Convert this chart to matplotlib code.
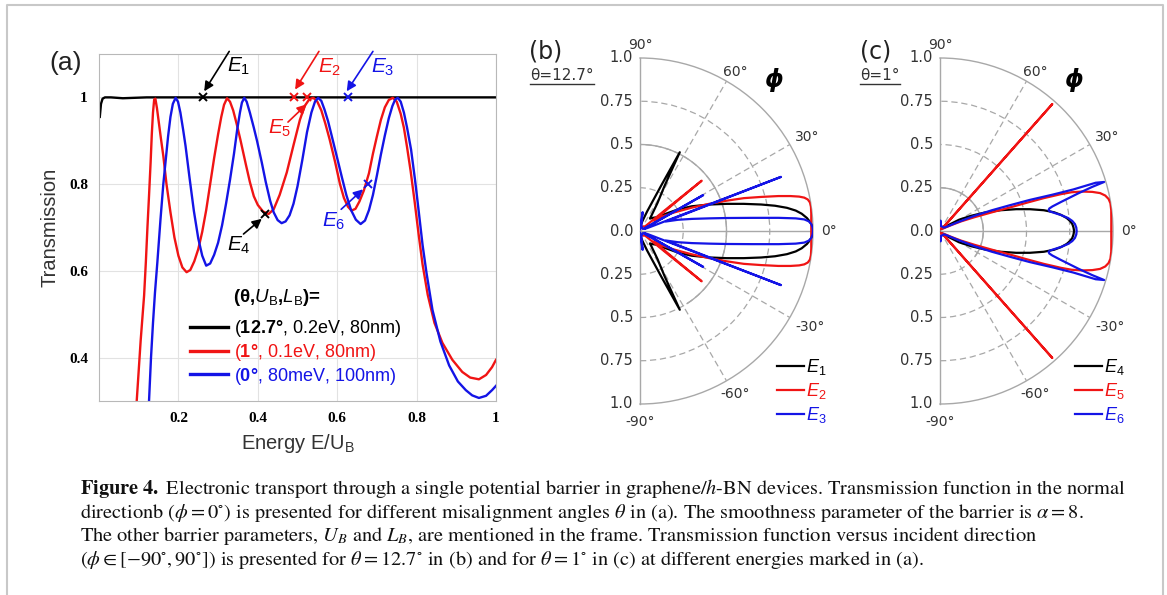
"""Figure 4 recreation: transmission vs energy (a) and angular T(phi) for theta=12.7 (b) / theta=1 (c)."""

import matplotlib
matplotlib.use("Agg")
import matplotlib.pyplot as plt
import numpy as np
from matplotlib.lines import Line2D

W, H = 1167, 595

plt.rcParams["mathtext.fontset"] = "custom"
plt.rcParams["mathtext.rm"] = "Liberation Sans"
plt.rcParams["mathtext.it"] = "Liberation Sans:italic"
plt.rcParams["mathtext.bf"] = "Liberation Sans:bold"

RED = "#f01414"
BLUE = "#1414e6"
BLACK = "#000000"
GRID_GRAY = "#a8a8a8"
TEXT_GRAY = "#333333"

# ---------------- panel (a): transmission vs E/U_B ----------------
E_BLACK = [0.002, 0.005, 0.009, 0.015, 0.03, 0.06, 0.12, 0.3, 0.6, 1.0]
T_BLACK = [0.955, 0.985, 0.997, 1.0, 1.0, 0.998, 1.0, 1.0, 1.0, 1.0]

E_RED = [0.095, 0.100, 0.105, 0.110, 0.1136, 0.118, 0.122, 0.126, 0.130, 0.133,
         0.136, 0.139, 0.142, 0.146, 0.151, 0.156, 0.162, 0.17, 0.18, 0.19,
         0.20, 0.21, 0.2206, 0.23, 0.24, 0.25, 0.26, 0.27, 0.28, 0.29,
         0.30, 0.308, 0.315, 0.3225, 0.33, 0.338, 0.347, 0.356, 0.37, 0.38,
         0.39, 0.40, 0.413, 0.427, 0.44, 0.455, 0.473, 0.49, 0.506, 0.518,
         0.53, 0.54, 0.55, 0.56, 0.57, 0.581, 0.595, 0.607, 0.617, 0.627,
         0.636, 0.646, 0.656, 0.667, 0.68, 0.69, 0.70, 0.71, 0.72, 0.73,
         0.74, 0.75, 0.76, 0.768, 0.776, 0.785, 0.795, 0.805, 0.815, 0.828,
         0.845, 0.865, 0.89, 0.915, 0.935, 0.957, 0.975, 0.99, 1.0]
T_RED = [0.30, 0.37, 0.44, 0.50, 0.543, 0.62, 0.70, 0.773, 0.85, 0.915,
         0.965, 0.995, 0.997, 0.975, 0.94, 0.905, 0.865, 0.80, 0.735, 0.677,
         0.635, 0.608, 0.597, 0.602, 0.622, 0.65, 0.69, 0.74, 0.80, 0.86,
         0.915, 0.955, 0.983, 0.998, 0.99, 0.97, 0.938, 0.903, 0.845, 0.805,
         0.772, 0.752, 0.737, 0.731, 0.742, 0.775, 0.827, 0.89, 0.948, 0.98,
         0.996, 0.999, 0.99, 0.97, 0.94, 0.903, 0.85, 0.80, 0.768, 0.748,
         0.739, 0.743, 0.76, 0.785, 0.825, 0.87, 0.91, 0.948, 0.977, 0.994,
         0.999, 0.99, 0.962, 0.93, 0.885, 0.83, 0.76, 0.685, 0.615, 0.545,
         0.48, 0.434, 0.395, 0.367, 0.354, 0.35, 0.36, 0.378, 0.395]

E_BLUE = [0.126, 0.131, 0.136, 0.141, 0.147, 0.155, 0.162, 0.168, 0.174, 0.18,
          0.186, 0.193, 0.199, 0.205, 0.212, 0.218, 0.228, 0.239, 0.25, 0.26,
          0.27, 0.28, 0.29, 0.30, 0.31, 0.32, 0.33, 0.34, 0.348, 0.355,
          0.36, 0.366, 0.372, 0.38, 0.39, 0.398, 0.41, 0.42, 0.431, 0.44,
          0.45, 0.46, 0.47, 0.48, 0.49, 0.50, 0.512, 0.524, 0.535, 0.544,
          0.552, 0.56, 0.568, 0.577, 0.586, 0.6, 0.612, 0.623, 0.635, 0.647,
          0.659, 0.67, 0.68, 0.69, 0.70, 0.71, 0.72, 0.73, 0.739, 0.746,
          0.7526, 0.76, 0.768, 0.776, 0.786, 0.796, 0.805, 0.815, 0.825, 0.84,
          0.86, 0.882, 0.904, 0.924, 0.94, 0.957, 0.975, 0.99, 1.0]
T_BLUE = [0.30, 0.40, 0.48, 0.55, 0.62, 0.72, 0.80, 0.855, 0.91, 0.955,
          0.985, 0.999, 0.99, 0.965, 0.925, 0.888, 0.815, 0.738, 0.675, 0.635,
          0.612, 0.617, 0.637, 0.665, 0.705, 0.755, 0.81, 0.87, 0.925, 0.965,
          0.988, 0.999, 0.99, 0.965, 0.93, 0.90, 0.85, 0.805, 0.762, 0.735,
          0.717, 0.71, 0.714, 0.728, 0.755, 0.795, 0.855, 0.92, 0.965, 0.99,
          0.999, 0.992, 0.972, 0.945, 0.912, 0.86, 0.815, 0.775, 0.74, 0.718,
          0.708, 0.716, 0.74, 0.775, 0.82, 0.868, 0.912, 0.952, 0.98, 0.995,
          0.999, 0.99, 0.965, 0.93, 0.88, 0.81, 0.74, 0.66, 0.595, 0.51,
          0.437, 0.382, 0.345, 0.325, 0.313, 0.307, 0.312, 0.325, 0.335]

SERIES_LABELS = [r"($\mathbf{12.7°}$, 0.2eV, 80nm)",
                 r"($\mathbf{1°}$, 0.1eV, 80nm)",
                 r"($\mathbf{0°}$, 80meV, 100nm)"]

# marked energies E1..E6 on the curves of (a)
MARK_E = [0.263, 0.491, 0.626, 0.418, 0.523, 0.677]
MARK_T = [1.0, 1.0, 1.0, 0.731, 1.0, 0.80]
MARK_NAMES = ["1", "2", "3", "4", "5", "6"]

X_TICKS = [0.2, 0.4, 0.6, 0.8, 1.0]
X_TICK_LABELS = ["0.2", "0.4", "0.6", "0.8", "1"]
Y_TICKS = [0.4, 0.6, 0.8, 1.0]
Y_TICK_LABELS = ["0.4", "0.6", "0.8", "1"]

# ---------------- panels (b), (c): T(phi), phi >= 0 half (curves are symmetric) ----------------
PHI_B1 = [0, 1.73, 2.9, 4.44, 6.1, 7.47, 8.96, 10.6, 12.33, 14.66, 17.43, 20.93,
          25.5, 29.6, 33.7, 38.7, 47, 51.1, 58, 61.5, 63.2, 65, 70, 76, 84, 90]
T_B1 = [1.0, 0.995, 0.986, 0.968, 0.94, 0.908, 0.86, 0.794, 0.717, 0.62, 0.524, 0.428,
        0.332, 0.253, 0.18, 0.128, 0.103, 0.092, 0.19, 0.30, 0.51, 0.29, 0.12, 0.06,
        0.03, 0.02]
PHI_B2 = [0, 2.9, 5.77, 8.07, 9.54, 10.63, 11.48, 12.2, 13.07, 14.17, 15.72, 17.57,
          19.29, 21.43, 24.23, 28.37, 33.18, 36.87, 38.6, 39.2, 39.8, 42, 60, 90]
T_B2 = [0.99, 0.991, 0.995, 0.998, 0.996, 0.987, 0.969, 0.941, 0.893, 0.825, 0.727,
        0.629, 0.53, 0.43, 0.329, 0.227, 0.155, 0.1, 0.2, 0.46, 0.2, 0.04, 0.03, 0.02]
PHI_B3 = [0, 1.15, 2.31, 3.29, 4.03, 4.64, 5.43, 6.67, 8.53, 10.34, 13.13, 16.46,
          20.14, 21.0, 21.8, 24, 29, 29.6, 30.2, 40, 75, 82, 86, 90]
T_B3 = [1.0, 0.998, 0.991, 0.977, 0.952, 0.903, 0.804, 0.654, 0.506, 0.407, 0.308,
        0.229, 0.16, 0.873, 0.05, 0.03, 0.03, 0.42, 0.03, 0.02, 0.03, 0.11, 0.03, 0.01]

PHI_C4 = [0, 1.48, 2.99, 4.41, 5.85, 7.57, 9.29, 11.31, 13.62, 15.98, 18.92, 22.37,
          26.05, 30.58, 35, 50, 90]
T_C4 = [0.775, 0.772, 0.766, 0.754, 0.736, 0.706, 0.669, 0.612, 0.535, 0.458, 0.37,
        0.281, 0.2, 0.128, 0.061, 0.02, 0.01]
PHI_C5 = [0, 3.47, 6.91, 9.23, 10.74, 12.11, 13.32, 14.4, 15.54, 16.42, 16.93, 17.57,
          18.06, 18.65, 19.8, 21.8, 24.6, 28.07, 35, 47.5, 48.5, 49.5, 60, 90]
T_C5 = [0.99, 0.992, 0.997, 0.998, 0.992, 0.977, 0.951, 0.909, 0.851, 0.792, 0.732,
        0.629, 0.526, 0.422, 0.319, 0.215, 0.132, 0.068, 0.03, 0.02, 0.98, 0.02, 0.02,
        0.01]
PHI_C6 = [0, 1.45, 2.94, 4.34, 5.79, 7.49, 9.04, 10.09, 10.82, 11.62, 12.32, 13.5,
          15.24, 16.16, 16.63, 17.22, 17.31, 17.9, 19.09, 20.3, 21.8, 23.75, 26.57, 32,
          40, 80, 87, 90]
T_C6 = [0.79, 0.788, 0.781, 0.767, 0.744, 0.706, 0.668, 0.645, 0.639, 0.645, 0.665,
        0.72, 0.829, 0.916, 0.99, 0.942, 0.807, 0.683, 0.55, 0.426, 0.323, 0.218, 0.112,
        0.047, 0.03, 0.03, 0.06, 0.03]

R_TICKS = [0.25, 0.5, 0.75, 1.0]
R_TICK_LABELS = ["0.25", "0.5", "0.75", "1.0"]
THETA_LABELS = ["90°", "60°", "30°", "0°", "-30°", "-60°", "-90°"]

CAPTION = [
    r"$\mathbf{Figure\ 4.}$ Electronic transport through a single potential barrier in "
    r"graphene/$h$-BN devices. Transmission function in the normal",
    r"directionb ($\phi = 0^{\circ}$) is presented for different misalignment angles "
    r"$\theta$ in (a). The smoothness parameter of the barrier is $\alpha = 8$.",
    r"The other barrier parameters, $U_B$ and $L_B$, are mentioned in the frame. "
    r"Transmission function versus incident direction",
    r"($\phi \in [-90^{\circ}, 90^{\circ}]$) is presented for $\theta = 12.7^{\circ}$ "
    r"in (b) and for $\theta = 1^{\circ}$ in (c) at different energies marked in (a).",
]


def fx(px):
    return px / W


def fy(py):
    return 1 - py / H


def full_sweep(phi_half, t_half):
    """Mirror the phi>=0 half onto phi<0 (the plots are symmetric)."""
    phi = np.asarray(phi_half, float)
    t = np.asarray(t_half, float)
    phi_all = np.concatenate([-phi[::-1], phi[1:]])
    t_all = np.concatenate([t[::-1], t[1:]])
    return np.deg2rad(phi_all), t_all


def draw_panel_a(fig):
    ax = fig.add_axes([fx(99), fy(401), fx(397), 347 / H])
    lines = []
    for e, t, c in [(E_BLACK, T_BLACK, BLACK), (E_RED, T_RED, RED), (E_BLUE, T_BLUE, BLUE)]:
        ln, = ax.plot(e, t, color=c, lw=1.7)
        lines.append(ln)
    colors = [BLACK, RED, BLUE, BLACK, RED, BLUE]
    for e, t, c in zip(MARK_E, MARK_T, colors):
        ax.plot(e, t, marker="x", ms=6, mew=1.4, color=c, ls="none")

    ax.set_xlim(0, 1)
    ax.set_ylim(0.3, 1.1)
    ax.set_xticks(X_TICKS)
    ax.set_xticklabels(X_TICK_LABELS)
    ax.set_yticks(Y_TICKS)
    ax.set_yticklabels(Y_TICK_LABELS)
    for lbl in ax.get_xticklabels() + ax.get_yticklabels():
        lbl.set_family("Liberation Serif")
        lbl.set_fontweight("bold")
        lbl.set_fontsize(11)
    ax.tick_params(length=0, pad=8)
    ax.grid(True, color="#e2e2e2", lw=0.8)
    ax.set_axisbelow(True)
    for sp in ax.spines.values():
        sp.set_color("#b8b8b8")
        sp.set_linewidth(0.8)

    ax.set_ylabel("Transmission", family="Liberation Sans", fontsize=14.5,
                  color=TEXT_GRAY, labelpad=7)
    ax.set_xlabel(r"Energy E/U$_\mathrm{B}$", family="Liberation Sans", fontsize=14.5,
                  color=TEXT_GRAY, labelpad=5)

    # arrows + E labels
    arrow_tail = [(0.328, 1.106), (0.554, 1.106), (0.69, 1.106),
                  (0.364, 0.685), (0.476, 0.943), (0.61, 0.742)]
    arrow_head = [(0.265, 1.014), (0.494, 1.018), (0.624, 1.014),
                  (0.41, 0.72), (0.523, 0.984), (0.665, 0.788)]
    label_pos = [(0.352, 1.072), (0.58, 1.07), (0.714, 1.07),
                 (0.352, 0.66), (0.455, 0.929), (0.59, 0.714)]
    for tail, head, pos, name, c in zip(arrow_tail, arrow_head, label_pos, MARK_NAMES, colors):
        ax.annotate("", xy=head, xytext=tail, annotation_clip=False,
                    arrowprops=dict(arrowstyle="-|>", color=c, lw=1.2,
                                    mutation_scale=14, shrinkA=0, shrinkB=0))
        ax.text(pos[0], pos[1], r"$\mathit{E}_{\mathit{%s}}$" % name, color=c,
                fontsize=15, ha="center", va="center")

    fig.text(fx(66), fy(63), "(a)", family="Liberation Sans", fontsize=19,
             ha="center", va="center", color="#222222")

    fig.text(fx(233), fy(298), "(θ,$\\mathit{U}_\\mathrm{B}$,$\\mathit{L}_\\mathrm{B}$)=",
             family="Liberation Sans", fontweight="bold", fontsize=13.5,
             ha="left", va="center")
    leg = ax.legend(lines, SERIES_LABELS, loc="upper left",
                    bbox_to_anchor=(fx(190), fy(318)), bbox_transform=fig.transFigure,
                    frameon=False, borderpad=0, borderaxespad=0,
                    handlelength=2.1, handletextpad=0.33, labelspacing=0.16,
                    prop={"family": "Liberation Sans", "size": 13})
    for txt, c in zip(leg.get_texts(), [BLACK, RED, BLUE]):
        txt.set_color(c)
    for h in leg.legend_handles:
        h.set_linewidth(2.4)


def setup_half_polar(ax, solid_r, solid_from):
    ax.set_thetamin(-90)
    ax.set_thetamax(90)
    ax.set_ylim(0, 1)
    ax.set_rticks([0.25, 0.5, 0.75])
    ax.set_yticklabels([])
    ax.set_thetagrids([-60, -30, 30, 60], labels=[""] * 4)
    ax.grid(True, color=GRID_GRAY, lw=0.9, ls=(0, (5, 3)))
    ax.tick_params(length=0)
    ax.patch.set_alpha(0)
    for name in ("polar", "start", "end"):
        ax.spines[name].set_color(GRID_GRAY)
        ax.spines[name].set_linewidth(1.0)
    ax.spines["inner"].set_visible(False)
    # solid 0 deg ray and the solid reference arc
    ax.plot([0, 0], [0, 1], color=GRID_GRAY, lw=1.0, zorder=1)
    arc = np.deg2rad(np.linspace(solid_from, 90, 120))
    ax.plot(arc, np.full_like(arc, solid_r), color=GRID_GRAY, lw=1.0, zorder=1)

    for r, lbl in zip(R_TICKS, R_TICK_LABELS):
        for th in (np.pi / 2, -np.pi / 2):
            ax.annotate(lbl, xy=(th, r), xytext=(-5, 0), textcoords="offset points",
                        ha="right", va="center", fontsize=10.5, color=TEXT_GRAY,
                        annotation_clip=False)
    ax.annotate("0.0", xy=(0, 0), xytext=(-5, 0), textcoords="offset points",
                ha="right", va="center", fontsize=10.5, color=TEXT_GRAY,
                annotation_clip=False)
    label_at = [(90, 1.075), (59, 1.075), (29.4, 1.11), (0, 1.09),
                (-29.5, 1.13), (-59.6, 1.09), (-90, 1.105)]
    for (deg, r), lbl in zip(label_at, THETA_LABELS):
        ax.text(np.deg2rad(deg), r, lbl, ha="center", va="center", fontsize=10,
                color=TEXT_GRAY)


def draw_polar(fig, cx, series, names, solid_r, solid_from, tag, theta_txt, tag_x, leg_x):
    side = 346
    ax = fig.add_axes([fx(cx - side / 4), fy(231 + side / 2), fx(side), side / H],
                      projection="polar")
    setup_half_polar(ax, solid_r, solid_from)
    handles = []
    for (phi, t), c in zip(series, [BLACK, RED, BLUE]):
        th, r = full_sweep(phi, t)
        ln, = ax.plot(th, r, color=c, lw=1.6, zorder=3)
        handles.append(ln)
    labels = [r"$\mathit{E}_{\mathit{%s}}$" % n for n in names]
    ax.legend(handles, labels, loc="upper left",
              bbox_to_anchor=(fx(leg_x), fy(357)), bbox_transform=fig.transFigure,
              frameon=False, borderpad=0, borderaxespad=0, handlelength=1.5,
              handletextpad=0.1, labelspacing=0.22, fontsize=13,
              labelcolor="linecolor")

    fig.text(fx(tag_x + 16), fy(52), tag, family="DejaVu Sans", fontsize=17,
             ha="center", va="center", color="#222222")
    t = fig.text(fx(tag_x), fy(75), theta_txt, family="DejaVu Sans", fontsize=11,
                 ha="left", va="center", color=TEXT_GRAY)
    fig.canvas.draw()
    bb = t.get_window_extent()
    fig.add_artist(Line2D([bb.x0 / W, bb.x1 / W], [fy(84), fy(84)], color=TEXT_GRAY,
                          lw=1.0, transform=fig.transFigure))
    fig.text(fx(cx + 134), fy(80), "ϕ", family="DejaVu Sans", fontsize=17,
             fontweight="bold", style="italic", ha="center", va="center")


def main():
    fig = plt.figure(figsize=(W / 100, H / 100), dpi=100)

    # page frame
    fig.add_artist(Line2D([fx(7), fx(7), fx(1163), fx(1163)], [0, fy(5), fy(5), 0],
                          color="#c8c8c8", lw=1.5, transform=fig.transFigure))

    draw_panel_a(fig)
    draw_polar(fig, 640, [(PHI_B1, T_B1), (PHI_B2, T_B2), (PHI_B3, T_B3)],
               ["1", "2", "3"], 0.5, -57, "(b)", "θ=12.7°", 530, 777)
    draw_polar(fig, 940, [(PHI_C4, T_C4), (PHI_C5, T_C5), (PHI_C6, T_C6)],
               ["4", "5", "6"], 0.25, -35, "(c)", "θ=1°", 860, 1075)

    for i, line in enumerate(CAPTION):
        fig.text(fx(80), fy(489 + 23.7 * i), line, family="STIXGeneral",
                 math_fontfamily="stix", fontsize=14.7, ha="left", va="center",
                 color="#111111")

    fig.savefig("out.png", dpi=100)


if __name__ == "__main__":
    main()
